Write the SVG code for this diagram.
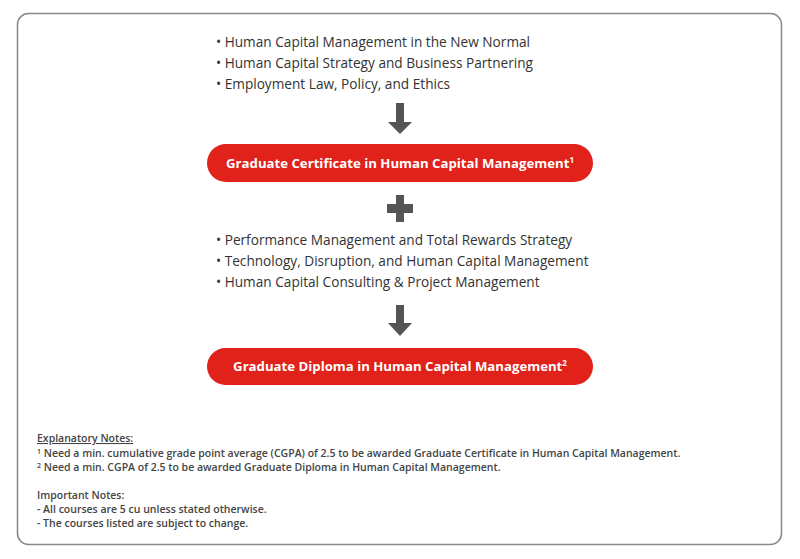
<svg xmlns="http://www.w3.org/2000/svg" width="800" height="559" viewBox="0 0 800 559">
<style>
.bul{font-family:"Open Sans","Liberation Sans",sans-serif;font-size:13.65px;fill:#333}
.pill{fill:#e0221b}
.pt{font-family:"Open Sans","Liberation Sans",sans-serif;font-size:13.2px;font-weight:700;fill:#fff;text-anchor:middle}
.note{font-family:"Open Sans","Liberation Sans",sans-serif;font-size:10.5px;font-weight:600;fill:#444}
.conn{fill:#555}
</style>
<rect x="17.5" y="13.5" width="764" height="531" rx="11" fill="#fff" stroke="#888" stroke-width="1.5"/>
<g id="list1">
<text class="bul" x="216" y="47">• Human Capital Management in the New Normal</text>
<text class="bul" x="216" y="68">• Human Capital Strategy and Business Partnering</text>
<text class="bul" x="216" y="89">• Employment Law, Policy, and Ethics</text>
</g>
<g id="cert">
<rect class="pill" x="207" y="144" width="386" height="38" rx="19"/>
<text class="pt" x="400" y="168">Graduate Certificate in Human Capital Management<tspan font-size="8" dy="-5">1</tspan></text>
</g>
<g id="list2">
<text class="bul" x="216" y="245">• Performance Management and Total Rewards Strategy</text>
<text class="bul" x="216" y="266">• Technology, Disruption, and Human Capital Management</text>
<text class="bul" x="216" y="287">• Human Capital Consulting &amp; Project Management</text>
</g>
<g id="diploma">
<rect class="pill" x="207" y="348" width="386" height="37" rx="18.5"/>
<text class="pt" x="400" y="371">Graduate Diploma in Human Capital Management<tspan font-size="8" dy="-5">2</tspan></text>
</g>
<g id="connectors">
<polygon class="conn" points="396,103 404,103 404,122 412,122 400,134 388,122 396,122"/>
<polygon class="conn" points="396,195 404,195 404,204 413,204 413,213 404,213 404,222 396,222 396,213 387,213 387,204 396,204"/>
<polygon class="conn" points="396,305 404,305 404,323 412,323 400,336 388,323 396,323"/>
</g>
<g id="notes">
<text class="note" x="37" y="442" text-decoration="underline">Explanatory Notes:</text>
<text class="note" x="37" y="457"><tspan font-size="7" dy="-3">1</tspan><tspan dy="3">  Need a min. cumulative grade point average (CGPA) of 2.5 to be awarded Graduate Certificate in Human Capital Management.</tspan></text>
<text class="note" x="37" y="471"><tspan font-size="7" dy="-3">2</tspan><tspan dy="3"> Need a min. CGPA of 2.5 to be awarded Graduate Diploma in Human Capital Management.</tspan></text>
<text class="note" x="37" y="499">Important Notes:</text>
<text class="note" x="37" y="513">- All courses are 5 cu unless stated otherwise.</text>
<text class="note" x="37" y="527">- The courses listed are subject to change.</text>
</g>
</svg>
